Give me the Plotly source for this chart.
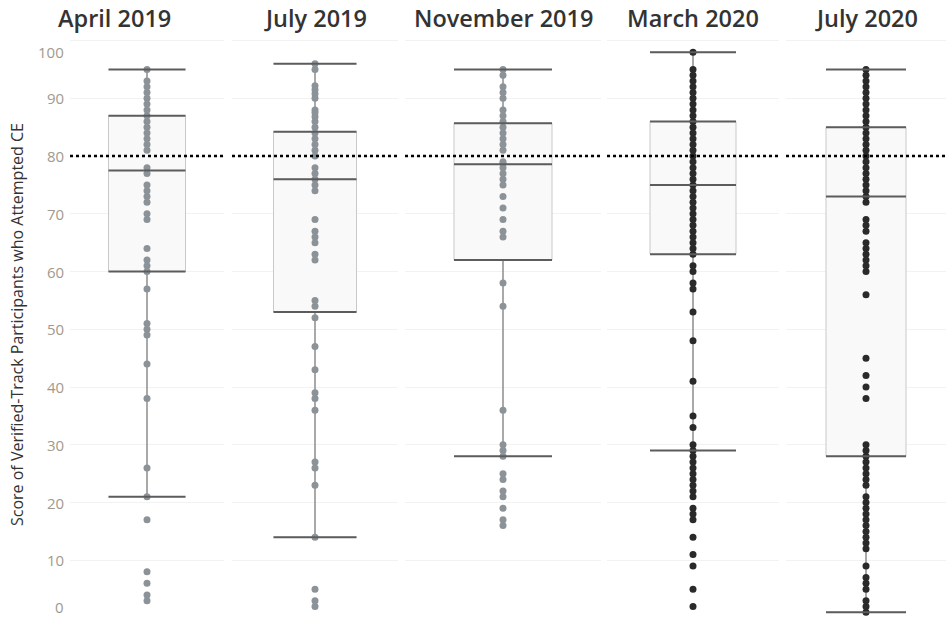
import plotly.graph_objects as go

# ---------------- data ----------------
periods = ["April 2019", "July 2019", "November 2019", "March 2020", "July 2020"]

scores_apr19 = [95, 93, 92, 91, 90, 89, 88, 87, 86, 85, 84, 83, 82, 81, 78, 77, 75, 74, 73, 72,
                70, 69, 64, 62, 61, 60, 57, 51, 50, 49, 44, 38, 26, 21, 17, 8, 6, 4, 3]
scores_jul19 = [96, 95, 92.2, 91.5, 90.8, 90, 88, 87.5, 86.8, 86, 85, 84, 83, 82, 81, 80, 78, 77,
                76, 75, 74, 69, 67, 66, 65, 63, 62, 55, 54, 52, 47, 43, 39, 38, 36, 27, 26, 23,
                14, 5, 3, 2]
scores_nov19 = [95, 94, 92, 91, 90, 88, 87, 86, 85, 84, 83, 82, 81, 79, 78.7, 78, 77, 76, 75, 73,
                71, 69, 67, 66, 58, 54, 36, 30, 29, 28, 25, 24, 22, 21, 19, 17, 16]
scores_mar20 = [98, 95, 94, 93, 92, 91, 90, 89, 88, 87, 86, 85, 84, 83, 82, 81, 80, 79, 78, 77,
                76, 75, 74, 73, 72, 71, 70, 69, 68, 67, 66, 65, 64, 63, 61, 60, 58, 57, 53, 48,
                41, 35, 33, 30, 29, 28, 27, 26, 25, 24, 23, 22, 21, 19, 18, 17, 14, 11, 9, 5, 2]
scores_jul20 = [95, 94, 93, 92, 91, 90, 89, 88, 87, 86, 85, 84, 83, 82, 81, 80, 79, 78, 77, 76,
                75, 74, 73, 72, 69, 68, 67, 65, 64, 63, 62, 61, 60, 56, 45, 42, 40, 38, 30, 29,
                28, 27, 26, 25, 24, 23, 21, 20, 19, 18, 17, 16, 15, 14, 13, 12, 9, 7, 6, 5, 3,
                2, 1]
scores = [scores_apr19, scores_jul19, scores_nov19, scores_mar20, scores_jul20]

# box statistics
q1 = [60, 53, 62, 63, 28]
median = [77.5, 76, 78.6, 75, 73]
q3 = [87, 84.2, 85.7, 86, 85]
lower_whisker = [21, 14, 28, 29, 1]
upper_whisker = [95, 96, 95, 98, 95]

target_score = 80
y_ticks = [0, 10, 20, 30, 40, 50, 60, 70, 80, 90, 100]

# ---------------- styling ----------------
W, H = 946, 618
panel_px = [(70, 224), (232, 398), (405, 601), (607, 779), (786, 946)]
dot_colors = ["#8b9399", "#8b9399", "#8b9399", "#2a2a2a", "#2a2a2a"]
BOX_W = 0.5
top_px = 40.6
y_domain = [0, 1 - top_px / H]

fig = go.Figure()

for i in range(5):
    xa = "x" if i == 0 else f"x{i+1}"
    half = BOX_W / 2
    # box body
    fig.add_trace(go.Box(
        x=[0], q1=[q1[i]], median=[median[i]], q3=[q3[i]],
        lowerfence=[lower_whisker[i]], upperfence=[upper_whisker[i]],
        width=BOX_W, whiskerwidth=1, boxpoints=False,
        fillcolor="#f9f9f9", line=dict(color="#c9c9c9", width=1),
        xaxis=xa, yaxis="y", showlegend=False, hoverinfo="skip"))
    # whisker vertical lines
    fig.add_trace(go.Scatter(
        x=[0, 0, None, 0, 0],
        y=[lower_whisker[i], q1[i], None, q3[i], upper_whisker[i]],
        mode="lines", line=dict(color="#6f6f6f", width=1),
        xaxis=xa, yaxis="y", showlegend=False, hoverinfo="skip"))
    # points
    fig.add_trace(go.Scatter(
        x=[0] * len(scores[i]), y=scores[i], mode="markers",
        marker=dict(size=7, color=dot_colors[i], line=dict(width=0)),
        xaxis=xa, yaxis="y", showlegend=False, hoverinfo="y"))
    # quartile/median/whisker caps
    xs, ys = [], []
    for v in [lower_whisker[i], q1[i], median[i], q3[i], upper_whisker[i]]:
        xs += [-half, half, None]
        ys += [v, v, None]
    fig.add_trace(go.Scatter(
        x=xs, y=ys, mode="lines", line=dict(color="#5c5c5c", width=2),
        xaxis=xa, yaxis="y", showlegend=False, hoverinfo="skip"))
    # reference line
    fig.add_trace(go.Scatter(
        x=[-0.5, 0.5], y=[target_score, target_score], mode="lines",
        line=dict(color="#000000", width=2.5, dash="3px,3px"),
        xaxis=xa, yaxis="y", showlegend=False, hoverinfo="skip"))

    ax = dict(domain=[panel_px[i][0] / W, panel_px[i][1] / W], range=[-0.5, 0.5],
              showticklabels=False, showgrid=False, zeroline=False,
              showline=True, mirror=True, linecolor="#f2f2f2", linewidth=1,
              anchor="y", fixedrange=True)
    fig.layout["xaxis" if i == 0 else f"xaxis{i+1}"] = ax

    title_font = dict(family="Open Sans", size=23.5, color="#333333", weight=600)
    # column header
    if i == 0:
        fig.add_annotation(x=(0 + 228) / 2 / W, xref="paper", y=1 - 18 / H, yref="paper",
                           text=periods[i], showarrow=False, xanchor="center", yanchor="middle",
                           font=title_font)
    else:
        fig.add_annotation(x=0.5, xref=f"{xa} domain", y=1 - 18 / H, yref="paper",
                           text=periods[i], showarrow=False, xanchor="center", yanchor="middle",
                           font=title_font)

fig.update_layout(
    yaxis=dict(domain=y_domain, range=[0, 100], tickvals=y_ticks, showticklabels=False,
               showgrid=True, gridcolor="#f2f2f2", gridwidth=1, zeroline=False,
               anchor="x", fixedrange=True),
)

# y tick labels
for t in y_ticks:
    shift = 0
    if t == 100:
        shift = -11
    elif t == 0:
        shift = 11
    fig.add_annotation(x=66 / W, xref="paper", y=t, yref="y", yshift=shift,
                       text=str(t), showarrow=False, xanchor="right", yanchor="middle",
                       font=dict(family="Open Sans", size=15, color="#a19a8d"))

# y axis title
fig.add_annotation(x=17 / W, xref="paper", y=(1 - 325 / H), yref="paper",
                   text="Score of Verified-Track Participants who Attempted CE",
                   textangle=-90, showarrow=False, xanchor="center", yanchor="middle",
                   font=dict(family="Open Sans", size=16, color="#333333"))

fig.update_layout(width=W, height=H, margin=dict(l=0, r=0, t=0, b=0),
                  paper_bgcolor="white", plot_bgcolor="white")

fig.write_html("out.html")
